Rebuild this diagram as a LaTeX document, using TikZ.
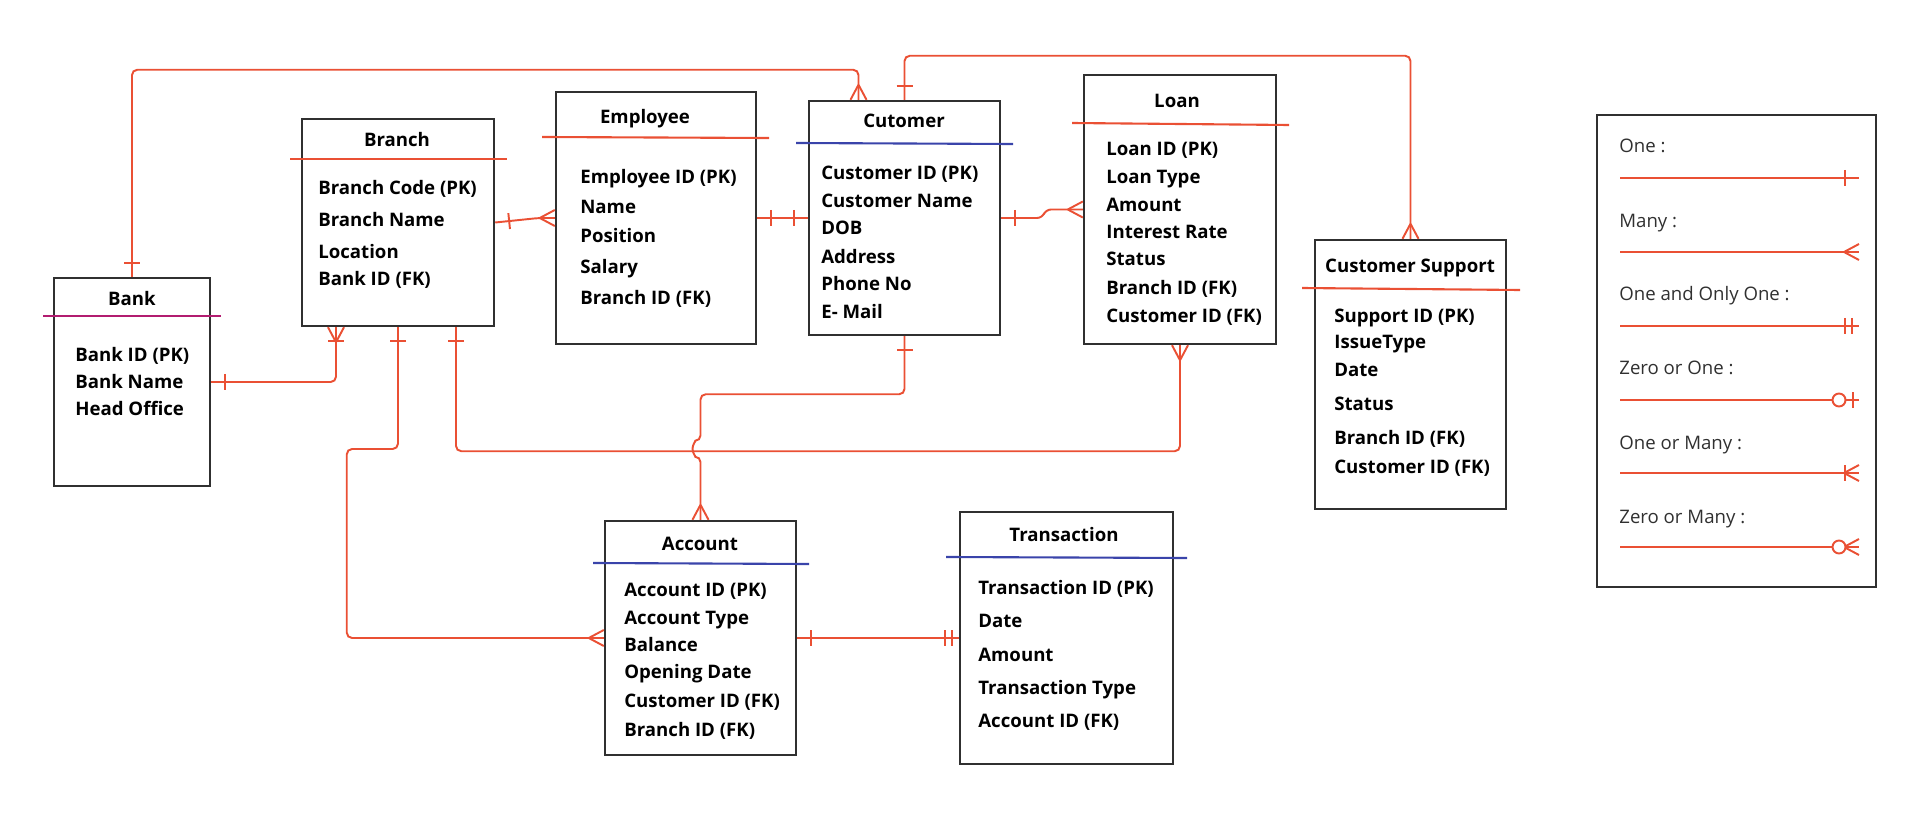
\documentclass[tikz,border=0pt]{standalone}
\usepackage{fontspec}
\setmainfont{Open Sans}
\usetikzlibrary{calc,fit,decorations.markings}
\definecolor{relred}{RGB}{234,80,52}
\definecolor{boxgray}{RGB}{48,48,48}
\definecolor{headblue}{RGB}{58,68,170}
\definecolor{headmagenta}{RGB}{178,28,112}
\newcommand{\erfont}{\fontsize{10.6}{13}\selectfont}
\newcommand{\barmark}{\draw[markline] (0,-8) -- (0,8);}
\newcommand{\crowmark}{\draw[markline] (-15,0) -- (0,-8) (-15,0) -- (0,8);}
\newcommand{\ringmark}{\draw[markline, fill=white] (0,0) circle[radius=6.5];}
\tikzset{
  entity/.style={draw=boxgray, line width=1.4pt, inner sep=0pt, fit={#1}},
  headline/.style={line width=1.2pt},
  enttitle/.style={anchor=base, inner sep=0pt, font=\erfont\bfseries},
  attr/.style={anchor=base west, inner sep=0pt, font=\erfont\bfseries},
  keytext/.style={anchor=base west, inner sep=0pt, font=\erfont, text=boxgray},
  rel/.style={draw=relred, line width=1.1pt, rounded corners=3pt},
  markline/.style={draw=relred, line width=1.1pt, sharp corners},
  relmark/.style={postaction={decorate, decoration={markings, mark=#1}}},
  one start/.style={relmark={at position 0.28cm with {\barmark}}},
  one end/.style={relmark={at position -0.28cm with {\barmark}}},
  many end/.style={relmark={at position 1 with {\crowmark}}},
  one many end/.style={one end, many end},
  only one end/.style={one end, relmark={at position -0.14cm with {\barmark}}},
  zero one end/.style={relmark={at position -0.4cm with {\ringmark}},
    relmark={at position -0.12cm with {\barmark}}},
  zero many end/.style={many end, relmark={at position -0.4cm with {\ringmark}}},
}
\begin{document}
\begin{tikzpicture}[x=0.02cm, y=-0.02cm]
  \useasboundingbox (0,0) rectangle (1918,814);

  % entities
  \node[entity={(54,278) (210,486)}] (bank) {};
  \node[entity={(302,119) (494,326)}] (branch) {};
  \node[entity={(556,92) (756,344)}] (employee) {};
  \node[entity={(809,101) (1000,335)}] (customer) {};
  \node[entity={(1084,75) (1276,344)}] (loan) {};
  \node[entity={(1315,240) (1506,509)}] (support) {};
  \node[entity={(605,521) (796,755)}] (account) {};
  \node[entity={(960,512) (1173,764)}] (transaction) {};
  \node[entity={(1597,115) (1876,587)}] (legend) {};

  \draw[headline, headmagenta] (43,316) -- (221,316);
  \draw[headline, relred] (290,159) -- (507,159);
  \draw[headline, relred] (542,137) -- (769,138);
  \draw[headline, headblue] (796,143) -- (1013,144);
  \draw[headline, relred] (1072,123) -- (1289,125);
  \draw[headline, relred] (1302,288) -- (1520,290);
  \draw[headline, headblue] (593,563) -- (809,564);
  \draw[headline, headblue] (946,557) -- (1187,558);

  \node[enttitle] (bank-t) at (132,306) {Bank};
  \node[enttitle] (branch-t) at (397,147) {Branch};
  \node[enttitle] (employee-t) at (645,124) {Employee};
  \node[enttitle] (customer-t) at (904,128) {Cutomer};
  \node[enttitle] (loan-t) at (1177,108) {Loan};
  \node[enttitle] (support-t) at (1410,273) {Customer Support};
  \node[enttitle] (account-t) at (700,550) {Account};
  \node[enttitle] (transaction-t) at (1064,541) {Transaction};

  \foreach \y/\t [count=\i] in {355/Bank ID (PK), 383/Bank Name, 410/Head Office}
    \node[attr] (bank-a\i) at (75,\y+6) {\t};
  \foreach \y/\t [count=\i] in {189/Branch Code (PK), 221/Branch Name,
      253/Location, 280/Bank ID (FK)}
    \node[attr] (branch-a\i) at (318,\y+6) {\t};
  \foreach \y/\t [count=\i] in {178/Employee ID (PK), 208/Name, 237/Position,
      268/Salary, 299/Branch ID (FK)}
    \node[attr] (employee-a\i) at (580,\y+6) {\t};
  \foreach \y/\t [count=\i] in {174/Customer ID (PK), 202/Customer Name, 229/DOB,
      258/Address, 285/Phone No, 312/E- Mail}
    \node[attr] (customer-a\i) at (821,\y+6) {\t};
  \foreach \y/\t [count=\i] in {150/Loan ID (PK), 178/Loan Type, 206/Amount,
      233/Interest Rate, 260/Status, 289/Branch ID (FK), 317/Customer ID (FK)}
    \node[attr] (loan-a\i) at (1106,\y+6) {\t};
  \foreach \y/\t [count=\i] in {317/Support ID (PK), 343/IssueType, 371/Date,
      404/Status, 438/Branch ID (FK), 467/Customer ID (FK)}
    \node[attr] (support-a\i) at (1334,\y+6) {\t};
  \foreach \y/\t [count=\i] in {590/Account ID (PK), 618/Account Type, 645/Balance,
      672/Opening Date, 701/Customer ID (FK), 730/Branch ID (FK)}
    \node[attr] (account-a\i) at (624,\y+6) {\t};
  \foreach \y/\t [count=\i] in {588/Transaction ID (PK), 621/Date, 655/Amount,
      688/Transaction Type, 721/Account ID (FK)}
    \node[attr] (transaction-a\i) at (978,\y+6) {\t};

  % relationships
  \draw[rel, one start, many end] (bank.north)
    |- ($(customer.north)+(-46,-30)$) -- ($(customer.north)+(-46,0)$);
  \draw[rel, one start, one many end] (bank.east) -| ($(branch.south)+(-62,0)$);
  \draw[rel, one start, many end] (branch.east)
    -- ($(employee.west)+(-16,0)$) -- (employee.west);
  \draw[rel, one start, one end] (employee.east) -- (customer.west);
  \draw[rel, one start, many end] (customer.east) -- ++(41,0)
    -- ($(loan.west)+(-37,0)$) -- (loan.west);
  \draw[rel, one start, many end] (customer.north) -- ++(0,-44) -| (support.north);
  \draw[rel, one start, many end] (customer.south) -- ++(0,58)
    -| ($(account.north)+(0,-79)$) arc[start angle=270, end angle=90, radius=8]
    -- (account.north);
  \draw[rel, one start, many end] ($(branch.south)+(58,0)$) -- ++(0,124)
    -| (loan.south);
  \draw[rel, one start, many end] (branch.south)
    |- ($(account.west)+(-257,-189)$) |- (account.west);
  \draw[rel, one start, only one end] (account.east) -- (transaction.west);

  % legend
  \foreach \y/\t [count=\i] in {147/One :, 222/Many :, 295/One and Only One :,
      369/Zero or One :, 443/One or Many :, 517/Zero or Many :}
    \node[keytext] (key\i) at (1619,\y+6) {\t};
  \draw[rel, one end] (1620,178) -- (1859,178);
  \draw[rel, many end] (1620,252) -- (1859,252);
  \draw[rel, only one end] (1620,326) -- (1859,326);
  \draw[rel, zero one end] (1620,400) -- (1859,400);
  \draw[rel, one many end] (1620,473) -- (1859,473);
  \draw[rel, zero many end] (1620,547) -- (1859,547);
\end{tikzpicture}
\end{document}
